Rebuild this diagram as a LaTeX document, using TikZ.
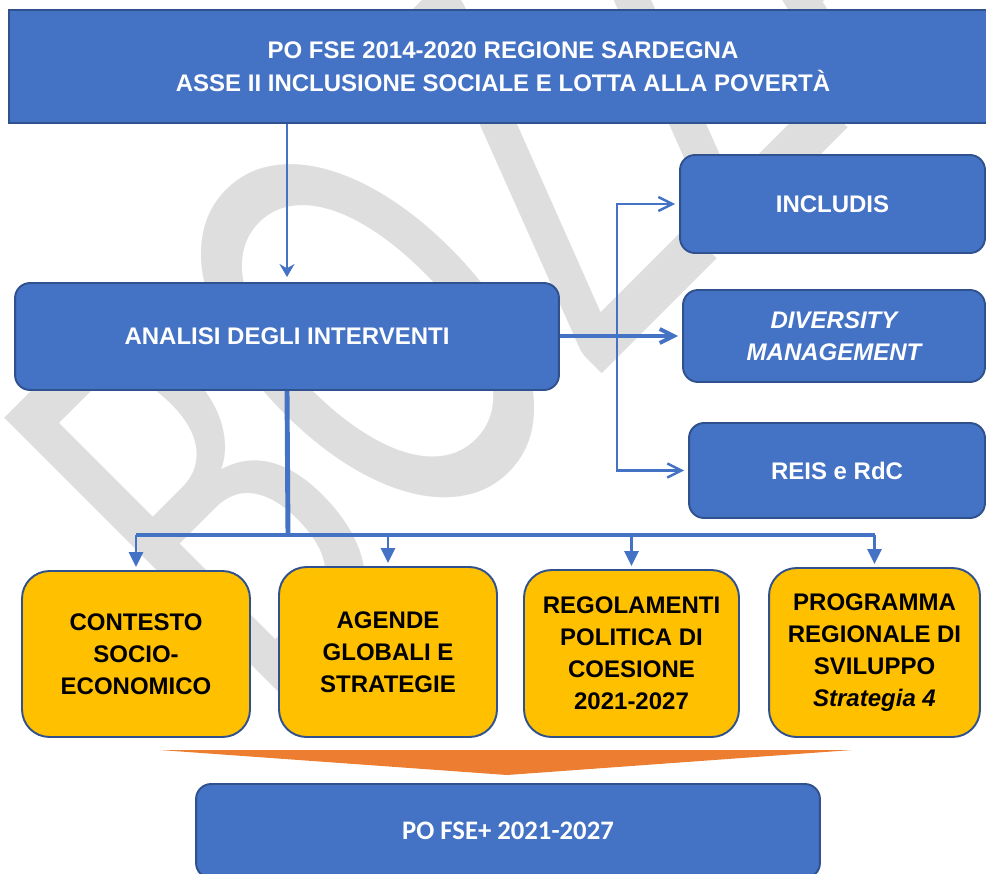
\documentclass[tikz,border=0pt]{standalone}
\usepackage{fontspec}
\setmainfont{Liberation Sans}
\newfontfamily\calibri{Carlito}
\usetikzlibrary{arrows.meta}
\definecolor{bluBox}{HTML}{4472C4}
\definecolor{bluBordo}{HTML}{2F528F}
\definecolor{giallo}{HTML}{FFC000}
\definecolor{arancio}{HTML}{ED7D31}
\definecolor{grigioWm}{RGB}{222,222,222}
\newcommand{\corpo}{\fontsize{13.66}{18.2}\selectfont}

\begin{document}
\begin{tikzpicture}[x=0.02cm,y=-0.02cm,
		box/.style={draw=bluBordo,line width=1.1pt,fill=bluBox,text=white,align=center,inner sep=0pt,font=\bfseries\corpo},
		tondo/.style={box,rounded corners=0.3cm},
		casella/.style={box,fill=giallo,text=black,rounded corners=0.55cm},
		freccia/.style={draw=bluBox,line width=1.4pt},
		filigrana/.style={anchor=base west,rotate=45,xscale=0.65,inner sep=0pt,text=grigioWm,font=\calibri\fontsize{347}{347}\selectfont}]
			\useasboundingbox (0,0) rectangle (986,873);
			\clip (0,0) rectangle (986,873);
			\node[filigrana] (bozza) at (261,715) {BOZZA};
			\fill[arancio] (160,750) -- (852,750) -- (507,775) -- cycle;
			\node[box,minimum width=19.76cm,minimum height=2.26cm] (titolo) at (503,66.5) {PO FSE 2014-2020 REGIONE SARDEGNA\\[0.6pt]ASSE II INCLUSIONE SOCIALE E LOTTA ALLA POVERTÀ};
			\node[tondo,minimum width=10.88cm,minimum height=2.14cm] (analisi) at (287,336.5) {ANALISI DEGLI INTERVENTI};
			\node[tondo,minimum width=6.1cm,minimum height=1.96cm] (includis) at (832.5,204) {INCLUDIS};
			\node[tondo,minimum width=6.04cm,minimum height=1.84cm,font=\bfseries\itshape\corpo] (diversity) at (834,336) {DIVERSITY\\MANAGEMENT};
			\node[tondo,minimum width=5.92cm,minimum height=1.9cm] (reis) at (837,470.5) {REIS e RdC};
			\node[casella,minimum width=4.56cm,minimum height=3.32cm] (contesto) at (136,654) {CONTESTO\\SOCIO-\\ECONOMICO};
			\node[casella,minimum width=4.36cm,minimum height=3.4cm] (agende) at (388,652) {AGENDE\\GLOBALI E\\STRATEGIE};
			\node[casella,minimum width=4.3cm,minimum height=3.34cm] (regolamenti) at (631.5,653.5) {REGOLAMENTI\\POLITICA DI\\COESIONE\\2021-2027};
			\node[casella,minimum width=4.22cm,minimum height=3.38cm] (programma) at (874.5,652.5) {PROGRAMMA\\REGIONALE DI\\SVILUPPO\\\textit{Strategia 4}};
			\node[tondo,minimum width=12.48cm,minimum height=1.88cm,font=\calibri\bfseries\fontsize{15.2}{18}\selectfont] (fse) at (508,831) {PO FSE+ 2021-2027};
			\coordinate (ramo) at (617,336);
			\coordinate (bivio) at (288,535);
			\draw[freccia,-{Stealth[length=7.4pt,width=8.5pt]},shorten >=0.1cm] (analisi.north |- titolo.south) -- (analisi.north);
			\draw[freccia,line width=2.2pt,-{Straight Barb[length=8pt,width=8pt]},shorten >=0.08cm] (analisi.east |- ramo) -- (diversity.west |- ramo);
			\draw[freccia,{Straight Barb[length=8pt,width=8pt]}-{Straight Barb[length=8pt,width=8pt]},shorten <=0.08cm,shorten >=0.08cm] (includis.west) -| (ramo) |- (reis.west);
			\draw[freccia,line width=2.8pt] (analisi.south) -- (bivio);
			\draw[freccia,line width=1.9pt] (contesto.north |- bivio) -- (programma.north |- bivio);
			\foreach \Casella in {contesto,agende,regolamenti,programma}
				\draw[freccia,-{Triangle[length=8.5pt,width=8pt]},shorten >=0.06cm] (\Casella.north |- bivio) -- (\Casella.north);
		\end{tikzpicture}
\end{document}
